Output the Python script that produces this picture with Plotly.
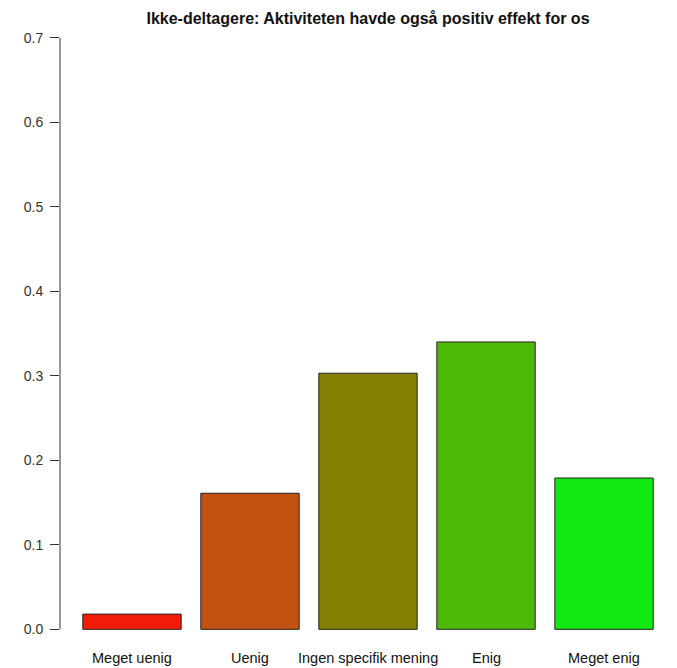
import plotly.graph_objects as go

categories = ["Meget uenig", "Uenig", "Ingen specifik mening", "Enig", "Meget enig"]
values = [0.018, 0.161, 0.303, 0.340, 0.179]
colors = ["#F41A08", "#C25212", "#868002", "#4CB808", "#12E812"]
y_ticks = [0.0, 0.1, 0.2, 0.3, 0.4, 0.5, 0.6, 0.7]
title = "Ikke-deltagere: Aktiviteten havde også positiv effekt for os"

# R barplot layout: width 1, space 0.2
centers = [0.7 + 1.2 * i for i in range(len(categories))]
y_range = [-0.028, 0.728]

fig = go.Figure()
fig.add_trace(go.Bar(
    x=centers, y=values, width=1.0,
    marker=dict(color=colors, line=dict(color="#222222", width=1)),
    hoverinfo="skip",
))

font = "Liberation Sans, Arial, sans-serif"

label_y = (-0.0335 - y_range[0]) / (y_range[1] - y_range[0])
for c, lab in zip(centers, categories):
    fig.add_annotation(x=c, y=label_y, xref="x", yref="paper", text=lab,
                       showarrow=False, font=dict(family=font, size=14.5, color="#111111"),
                       xanchor="center", yanchor="middle")

# y axis line only from 0 to 0.7 (R style)
fig.add_shape(type="line", xref="paper", yref="y", x0=0, x1=0, y0=0, y1=0.7,
              line=dict(color="#333333", width=1))

fig.update_layout(
    width=677, height=668,
    margin=dict(l=60, r=1, t=14, b=15, autoexpand=False),
    paper_bgcolor="white", plot_bgcolor="white",
    showlegend=False,
    title=dict(text="<b>" + title + "</b>", x=368 / 677, xanchor="center",
               y=1 - 18 / 668, yanchor="middle",
               font=dict(family=font, size=16, color="#111111")),
    xaxis=dict(range=[-0.032, 6.232], showticklabels=False, showgrid=False,
               zeroline=False, showline=False, ticks="", automargin=False),
    yaxis=dict(range=y_range, tickvals=y_ticks, tickformat=".1f",
               showgrid=False, zeroline=False, showline=False, automargin=False,
               ticks="outside", ticklen=9, tickcolor="#333333", tickwidth=1,
               ticklabelstandoff=4,
               tickfont=dict(family=font, size=14, color="#333333")),
)

fig.write_html("out.html", config={"displayModeBar": False},
               post_script="document.body.style.margin='0';document.body.style.overflow='hidden';")
